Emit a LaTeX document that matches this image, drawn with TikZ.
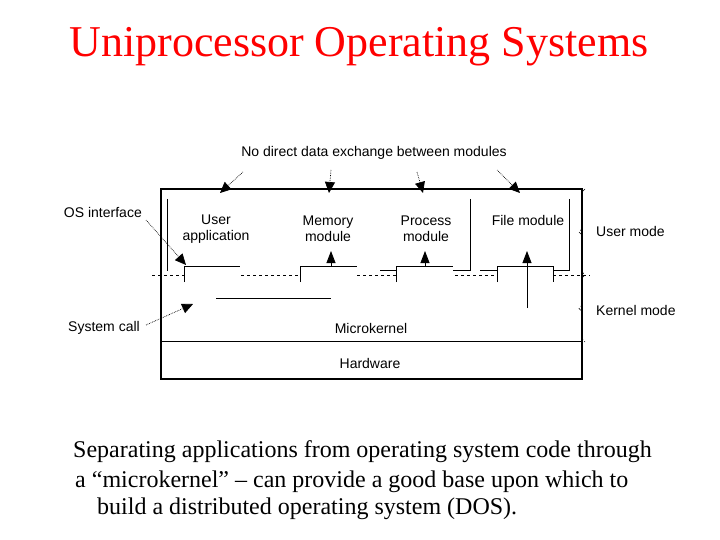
\documentclass[tikz,border=0pt]{standalone}
\usepackage{fontspec}
\setmainfont{Liberation Serif}
\newfontfamily\dsans{Liberation Sans}
\usetikzlibrary{arrows.meta,decorations.pathreplacing}
\begin{document}
\begin{tikzpicture}[x=1pt,y=-1pt,
  lbl/.style={font=\dsans\fontsize{14}{16.5}\selectfont,align=center,inner sep=1pt},
  ln/.style={line width=0.8pt},
  dotarr/.style={densely dotted,line width=0.7pt,-{Triangle[length=11pt,width=10pt]}},
  uparr/.style={line width=0.8pt,-{Triangle[length=12pt,width=9pt]}},
  brc/.style={dash pattern=on 3pt off 2pt,line width=0.6pt,decorate,decoration={brace,mirror,amplitude=6pt,aspect=0.5}}]
\useasboundingbox (0,0) rectangle (720,540);
\node[text=red,font=\fontsize{44}{50}\selectfont] (title) at (359,47) {Uniprocessor Operating Systems};
% outer box
\draw[line width=1.6pt] (161,189) rectangle (582,379);
\draw[line width=0.8pt] (161,341) -- (582,341);
% module vertical lines
\draw[ln] (167,199) -- (167,271);
\draw[ln] (470,199) -- (470,270) -- (453,270);
\draw[ln] (569,199) -- (569,270) -- (553,270);
% steps
\draw[ln] (184,282) -- (184,266) -- (240,266);
\draw[ln] (300,282) -- (300,266) -- (357,266);
\draw[ln] (380,270) -- (396,270);
\draw[ln] (396,282) -- (396,266) -- (453,266);
\draw[ln] (480,270) -- (497,270);
\draw[ln] (497,282) -- (497,266) -- (553,266) -- (553,282);
% dashed
\draw[dashed,line width=0.6pt] (152,275) -- (184,275);
\draw[dashed,line width=0.6pt] (241,275) -- (300,275);
\draw[dashed,line width=0.6pt] (357,275) -- (396,275);
\draw[dashed,line width=0.6pt] (455,275) -- (497,275);
\draw[dashed,line width=0.6pt] (553,275) -- (590,275);
\draw[ln] (216,298) -- (331,298);
% labels
\node[lbl] (ua) at (216,229) {User\\application};
\node[lbl] (mm) at (328,229) {Memory\\module};
\node[lbl] (pm) at (426,229) {Process\\module};
\node[lbl] (fm) at (528,220) {File module};
\node[lbl] (mk) at (371,328) {Microkernel};
\node[lbl] (hw) at (370,363) {Hardware};
\node[lbl] (nd) at (374,153) {No direct data exchange between modules};
\node[lbl,anchor=east] (osi) at (143,212) {OS interface};
\node[lbl,anchor=east] (sc) at (141,328) {System call};
\node[lbl,anchor=west] (um) at (595,231) {User mode};
\node[lbl,anchor=west] (km) at (595,310) {Kernel mode};
% up arrows
\coordinate (a2) at (331,266); \coordinate (a2t) at (331,251);
\coordinate (a3) at (425,266); \coordinate (a3t) at (425,251);
\coordinate (a4) at (527,308); \coordinate (a4t) at (527,251);
\draw[uparr] (a2) -- (a2t);
\draw[uparr] (a3) -- (a3t);
\draw[uparr] (a4) -- (a4t);
% dotted arrows
\draw[dotarr] (243,172) -- (220,193);
\draw[dotarr] (331,170) -- (329,193);
\draw[dotarr] (417,172) -- (423,193);
\draw[dotarr] (497,170) -- (520,193);
\draw[dotarr] (146,220) -- (186,265);
\draw[dotarr] (146,325) -- (193,304);
% braces
\draw[brc] (585,189) -- (585,275);
\draw[brc] (585,275) -- (585,342);
% caption
\node[anchor=west,font=\fontsize{24}{28}\selectfont,inner sep=0pt] (c1) at (73,452) {Separating applications from operating system code through};
\node[anchor=west,font=\fontsize{24}{28}\selectfont,inner sep=0pt] (c2) at (75,482) {a “microkernel” – can provide a good base upon which to};
\node[anchor=west,font=\fontsize{24}{28}\selectfont,inner sep=0pt] (c3) at (97,509) {build a distributed operating system (DOS).};
\end{tikzpicture}
\end{document}
